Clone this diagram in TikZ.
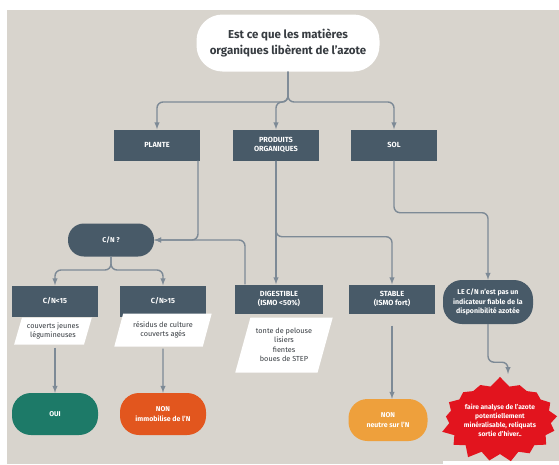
\documentclass[tikz,border=0pt]{standalone}
\usepackage{fontspec}
\setmainfont{Fira Sans}
\usepackage{tikz}
\usetikzlibrary{arrows,shapes.geometric,shapes.symbols}
\definecolor{fond}{RGB}{216,212,205}
\definecolor{ardoise}{RGB}{72,90,104}
\definecolor{trait}{RGB}{125,138,150}
\definecolor{vert}{RGB}{29,122,104}
\definecolor{orangerouge}{RGB}{226,86,30}
\definecolor{orangeclair}{RGB}{238,160,60}
\definecolor{rouge}{RGB}{226,20,30}
\definecolor{titretxt}{RGB}{55,60,65}

\begin{document}
\begin{tikzpicture}[x=1pt,y=-1pt,
	boite/.style={fill=ardoise, text=white, font=\fontsize{7.4}{9.5}\selectfont\bfseries, align=center, minimum width=86pt, minimum height=31pt, inner sep=1pt},
	pilule/.style={fill=#1, text=white, font=\fontsize{7}{9.5}\selectfont\bfseries, align=center, rounded corners=19pt, minimum width=86pt, minimum height=42pt, inner sep=1pt},
	etiquette/.style={trapezium, trapezium left angle=70, trapezium right angle=110, trapezium stretches=true, fill=white, text=titretxt, font=\fontsize{7.3}{9.5}\selectfont, align=center, inner sep=1pt},
	conn/.style={draw=trait, line width=1.4pt, rounded corners=6pt, -latex}]
	\useasboundingbox (0,0) rectangle (559,464);
	\fill[white] (0,0) rectangle (559,464);
	\fill[fond] (7,10) rectangle (559,464);
	\fill[white] (443,461) rectangle (559,464);
	
	% question
	\node[fill=white, text=titretxt, rounded corners=26pt, minimum width=183pt, minimum height=57pt, align=center, font=\fontsize{11.5}{16}\selectfont\bfseries] (titre) at (288,43) {Est ce que les matières\\organiques libèrent de l'azote};
	\coordinate (split) at (288,102);
	
	\node[boite] (plante) at (157,145) {PLANTE};
	\node[boite] (produits) at (276,145) {PRODUITS\\ORGANIQUES};
	\node[boite] (sol) at (394,145) {SOL};
	
	\node[pilule=ardoise, rounded corners=16pt, minimum height=33pt] (cn) at (111,240) {C/N ?};
	\coordinate (cnsplit) at (111,270);
	
	\node[boite] (inf) at (55,301) {C/N<15};
	\node[boite] (sup) at (163,301) {C/N>15};
	\node[boite, minimum width=88pt, minimum height=29pt] (digest) at (279,299) {DIGESTIBLE\\(ISMO <50\%)};
	\node[boite, minimum height=29pt] (stable) at (392,299) {STABLE\\(ISMO fort)};
	\node[pilule=ardoise, minimum width=90pt, minimum height=44pt] (lecn) at (488,302) {LE C/N n'est pas un\\indicateur fiable de la\\disponibilité azotée};
	
	\node[etiquette, minimum width=78pt, minimum height=27pt] (lbinf) at (53,331) {couverts jeunes\\légumineuses};
	\node[etiquette, minimum width=98pt, minimum height=33pt] (lbsup) at (163,330) {résidus de culture\\couverts agés};
	\node[etiquette, minimum width=98pt, minimum height=55pt] (lbdig) at (284,345) {tonte de pelouse\\lisiers\\fientes\\boues de STEP};
	
	\node[pilule=vert] (oui) at (55,414) {OUI};
	\node[pilule=orangerouge] (nonimm) at (163,414) {NON\\immobilise de l'N};
	\node[pilule=orangeclair, minimum width=79pt] (nonneu) at (388,420) {NON\\neutre sur l'N};
	\node[starburst, starburst points=17, starburst point height=10pt, random starburst=7, fill=rouge, text=white, font=\fontsize{6.7}{9}\selectfont\bfseries, align=center, inner sep=0pt, minimum width=98pt, minimum height=88pt] (alerte) at (500,420) {faire analyse de l'azote\\potentiellement\\minéralisable, reliquats\\sortie d'hiver..};
	\coordinate (alertein) at (508,374);
	
	% liaisons
	\draw[conn] (titre.south) -- (split) -| (plante.north);
	\draw[conn] (titre.south) -- (split) -| (produits.north);
	\draw[conn] (titre.south) -- (split) -| (sol.north);
	
	\draw[conn] ([xshift=41pt]plante.south) |- (cn.east);
	\draw[conn] ([xshift=-34pt]digest.north) |- (cn.east);
	\draw[conn] (produits.south) -- (produits.south |- digest.north);
	\draw[conn] (produits.south) -- ++(0,76) -| (stable.north);
	\draw[conn] (sol.south) -- ++(0,52) -| (lecn.north);
	
	\draw[conn] (cn.south) -- (cnsplit) -| (inf.north);
	\draw[conn] (cn.south) -- (cnsplit) -| (sup.north);
	
	\draw[conn, shorten <=3pt] (oui.north |- lbinf.south) -- (oui.north);
	\draw[conn, shorten <=2pt] (lbsup.south) -- (nonimm.north);
	\draw[conn, shorten <=12pt] (stable.south) -- (stable.south |- nonneu.north);
	\draw[conn] (lecn.south) -- ++(0,38) -| (alertein);
\end{tikzpicture}
\end{document}
